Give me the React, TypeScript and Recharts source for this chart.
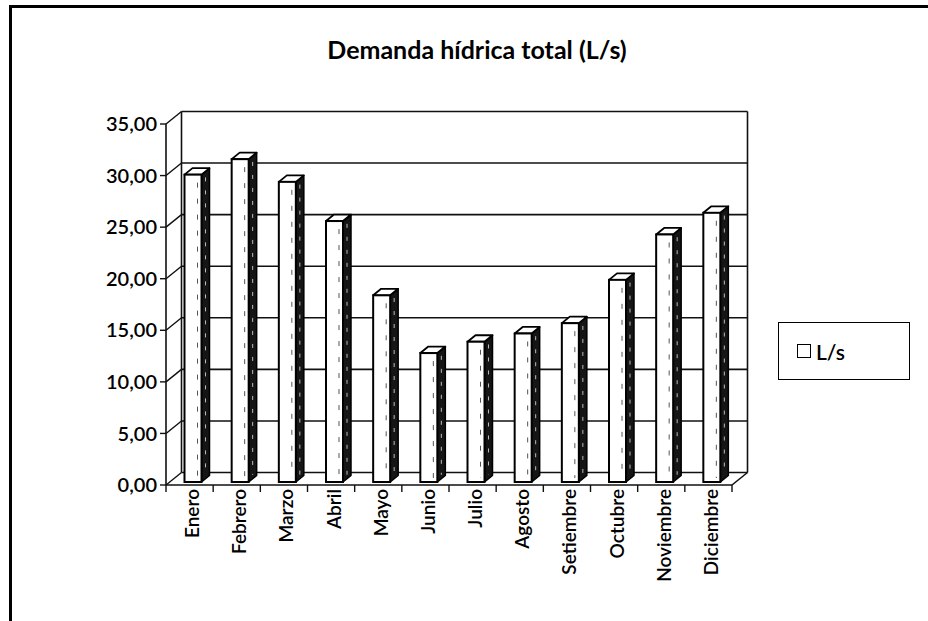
import React from 'react';
import { BarChart, Bar, XAxis, YAxis, CartesianGrid, Legend, Customized } from 'recharts';

const months = ['Enero', 'Febrero', 'Marzo', 'Abril', 'Mayo', 'Junio', 'Julio', 'Agosto', 'Setiembre', 'Octubre', 'Noviembre', 'Diciembre'];
const demanda = [29.8, 31.3, 29.1, 25.3, 18.1, 12.5, 13.6, 14.4, 15.4, 19.6, 24.0, 26.1];
const yTicks = [0, 5, 10, 15, 20, 25, 30, 35];
const title = 'Demanda hídrica total (L/s)';
const seriesName = 'L/s';

const data = months.map((m, i) => ({ mes: m, valor: demanda[i] }));

const FONT = 'Lato, "Open Sans", sans-serif';
const DX = 15.5;
const DY = -12.5;
const INK = '#111';

const fmt = (v: number) => v.toFixed(2).replace('.', ',');

const renderWallLine = (p: any) => {
  const { x1, y1, x2, y2, index, y, height } = p;
  const bottom = y + height;
  return (
    <g key={p.key}>
      <line x1={x1 + DX} y1={y1 + DY} x2={x2 + DX} y2={y2 + DY} stroke={INK} strokeWidth={1.6} />
      <line x1={x1} y1={y1} x2={x1 + DX} y2={y1 + DY} stroke={INK} strokeWidth={1.4} />
      {index === 0 && (
        <>
          <line x1={x1 + DX} y1={y + DY} x2={x1 + DX} y2={bottom + DY} stroke={INK} strokeWidth={1.6} />
          <line x1={x2 + DX} y1={y + DY} x2={x2 + DX} y2={bottom + DY} stroke={INK} strokeWidth={1.6} />
          <line x1={x2} y1={bottom} x2={x2 + DX} y2={bottom + DY} stroke={INK} strokeWidth={1.6} />
        </>
      )}
    </g>
  );
};

const Bar3D = (p: any) => {
  const { x, y, width, height } = p;
  if (height == null || isNaN(height)) return null;
  const fx = x + 3.5;
  const fy = y - 3;
  const bx = 8;
  const by = -6.5;
  const side = `${fx + width},${fy} ${fx + width + bx},${fy + by} ${fx + width + bx},${fy + height + by} ${fx + width},${fy + height}`;
  const top = `${fx},${fy} ${fx + bx},${fy + by} ${fx + width + bx},${fy + by} ${fx + width},${fy}`;
  return (
    <g>
      <polygon points={side} fill="#151515" stroke="#000" strokeWidth={1.5} strokeLinejoin="round" />
      <line x1={fx + width + bx * 0.5} y1={fy + by * 0.5 + 6} x2={fx + width + bx * 0.5} y2={fy + height + by * 0.5 - 4} stroke="#bbb" strokeWidth={1} strokeDasharray="4 9" />
      <polygon points={top} fill="#fff" stroke="#000" strokeWidth={1.8} strokeLinejoin="round" />
      <rect x={fx} y={fy} width={width} height={height} fill="#fff" stroke="#000" strokeWidth={2} />
      <line x1={fx + width - 4} y1={fy + 8} x2={fx + width - 4} y2={fy + height - 4} stroke="#555" strokeWidth={1} strokeDasharray="5 11" />
    </g>
  );
};

const XTick = (p: any) => {
  const { x, y, payload, index } = p;
  const half = payload && payload.offset ? payload.offset : 23.57;
  const tx = x + 2;
  const ty = y - 4;
  return (
    <g>
      <line x1={x - half} y1={y - 8} x2={x - half} y2={y - 1} stroke={INK} strokeWidth={1.4} />
      {index === months.length - 1 && (
        <line x1={x + half} y1={y - 8} x2={x + half} y2={y - 1} stroke={INK} strokeWidth={1.4} />
      )}
      <text
        x={tx}
        y={ty}
        transform={`rotate(-90, ${tx}, ${ty})`}
        textAnchor="end"
        dominantBaseline="central"
        fontFamily={FONT}
        fontSize={19}
        fontWeight={600}
        fill="#000"
      >
        {payload.value}
      </text>
    </g>
  );
};

const Title = () => (
  <text x={477} y={59} textAnchor="middle" fontFamily={FONT} fontSize={25} fontWeight={700} fill="#000">
    {title}
  </text>
);

const LegendBox = () => (
  <div
    style={{
      boxSizing: 'border-box',
      width: 132,
      height: 58,
      border: '1.5px solid #000',
      display: 'flex',
      alignItems: 'center',
      paddingLeft: 18,
      fontFamily: FONT,
      fontSize: 21,
      fontWeight: 600,
      color: '#000',
      background: '#fff',
    }}
  >
    <span style={{ display: 'inline-block', boxSizing: 'border-box', width: 14, height: 14, border: '1.6px solid #000', marginRight: 5 }} />
    <span>{seriesName}</span>
  </div>
);

export default function App() {
  return (
    <div style={{ position: 'absolute', left: 0, top: 0, width: 928, height: 621, overflow: 'hidden', background: '#fff' }}>
      <div
        style={{
          position: 'absolute',
          left: 9,
          top: 5,
          width: 960,
          height: 660,
          borderLeft: '3px solid #000',
          borderTop: '3px solid #000',
        }}
      />
      <div style={{ position: 'absolute', left: 0, top: 0 }}>
        <BarChart width={928} height={621} data={data} margin={{ top: 124, right: 196, bottom: 16, left: 96 }}>
          <CartesianGrid vertical={false} horizontal={renderWallLine} />
          <XAxis
            dataKey="mes"
            height={120}
            interval={0}
            tickLine={false}
            axisLine={{ stroke: INK, strokeWidth: 1.6 }}
            tick={<XTick />}
          />
          <YAxis
            width={70}
            domain={[0, 35]}
            ticks={yTicks}
            tickFormatter={fmt}
            tickSize={6}
            tickMargin={3}
            axisLine={{ stroke: INK, strokeWidth: 1.6 }}
            tickLine={{ stroke: INK, strokeWidth: 1.4 }}
            tick={{ fontFamily: FONT, fontSize: 20, fontWeight: 600, fill: '#000' }}
            interval={0}
          />
          <Bar dataKey="valor" name={seriesName} barSize={17} shape={<Bar3D />} isAnimationActive={false} />
          <Legend
            layout="horizontal"
            align="center"
            verticalAlign="middle"
            wrapperStyle={{ left: 778, top: 322, width: 132, height: 58 }}
            content={() => <LegendBox />}
          />
          <Customized component={<Title />} />
        </BarChart>
      </div>
    </div>
  );
}
